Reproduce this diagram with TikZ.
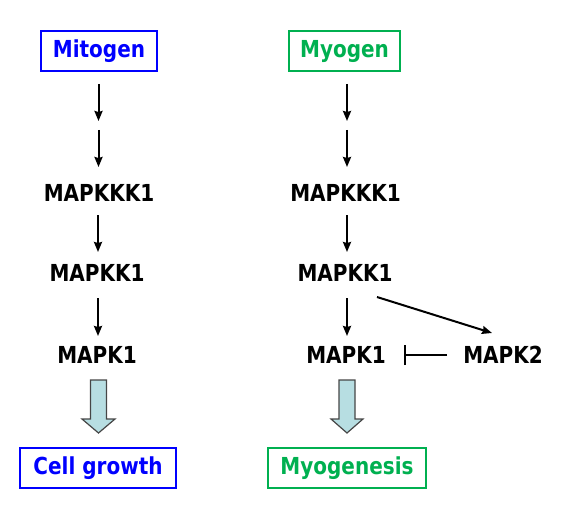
\documentclass[tikz,border=0pt]{standalone}
\usepackage{fontspec}
\usepackage{graphicx}
\setmainfont{DejaVu Sans}
\usetikzlibrary{arrows.meta,calc}
\definecolor{mblue}{RGB}{0,0,255}
\definecolor{mgreen}{RGB}{0,176,80}
\definecolor{bafill}{RGB}{183,222,226}
\definecolor{badraw}{RGB}{70,70,70}
\newcommand\talltxt[1]{\scalebox{1}[1.17]{#1}}
\begin{document}
\begin{tikzpicture}[x=1pt,y=-1pt,
  lbl/.style={font=\fontsize{20}{24}\selectfont\bfseries, inner sep=0pt},
  boxed/.style={draw=#1, text=#1, line width=2pt, font=\fontsize{20}{24}\selectfont\bfseries, minimum height=40pt, inner sep=0pt},
  arr/.style={line width=2pt, -{Stealth[length=10pt,width=8pt,inset=1pt]}},
  inhib/.style={line width=2pt, -{Bar[width=20pt,line width=2pt]}},
  blockarrow/.style={draw=badraw, fill=bafill, line width=1.2pt, line join=miter}
]
\useasboundingbox (0,0) rectangle (586,524);

% left column
\node[boxed=mblue, minimum width=116pt] (mitogen) at (99,51) {\talltxt{Mitogen}};
\coordinate (l1a) at (98.5,84);  \coordinate (l1b) at (98.5,121);
\coordinate (l2a) at (98.5,130); \coordinate (l2b) at (98.5,167);
\node[lbl] (kkk1L) at (99,193) {\talltxt{MAPKKK1}};
\node[lbl] (kk1L) at (97,273) {\talltxt{MAPKK1}};
\node[lbl] (k1L) at (97,355) {\talltxt{MAPK1}};
\node[boxed=mblue, minimum width=156pt] (growth) at (98,468) {\talltxt{Cell growth}};

\draw[arr] (l1a) -- (l1b);
\draw[arr] (l2a) -- (l2b);
\draw[arr] ($(kkk1L)+(-1,22)$) -- ($(kk1L)+(1,-21)$);
\draw[arr] ($(kk1L)+(1,25)$) -- ($(k1L)+(1,-19)$);
\draw[blockarrow] ($(k1L)+(-6.5,25)$) -- ($(k1L)+(9.5,25)$) -- ($(k1L)+(9.5,64)$) -- ($(k1L)+(18,64)$)
  -- ($(k1L)+(1.5,78)$) -- ($(k1L)+(-15,64)$) -- ($(k1L)+(-6.5,64)$) -- cycle;

% right column
\node[boxed=mgreen, minimum width=111pt] (myogen) at (344.5,51) {\talltxt{Myogen}};
\coordinate (r1a) at (347,84);  \coordinate (r1b) at (347,121);
\coordinate (r2a) at (347,130); \coordinate (r2b) at (347,167);
\node[lbl] (kkk1R) at (345.5,193) {\talltxt{MAPKKK1}};
\node[lbl] (kk1R) at (345,273) {\talltxt{MAPKK1}};
\node[lbl] (k1R) at (346,355) {\talltxt{MAPK1}};
\node[lbl] (k2R) at (503,355) {\talltxt{MAPK2}};
\node[boxed=mgreen, minimum width=158pt] (myogenesis) at (347,468) {\talltxt{Myogenesis}};

\draw[arr] (r1a) -- (r1b);
\draw[arr] (r2a) -- (r2b);
\draw[arr] ($(kkk1R)+(1.5,22)$) -- ($(kk1R)+(2,-21)$);
\draw[arr] ($(kk1R)+(2,25)$) -- ($(k1R)+(1,-19)$);
\draw[arr] ($(kk1R)+(32,24)$) -- ($(k2R)+(-11,-22)$);
\draw[inhib] ($(k2R)+(-56,0)$) -- ($(k1R)+(58,0)$);
\draw[blockarrow] ($(k1R)+(-7,25)$) -- ($(k1R)+(9,25)$) -- ($(k1R)+(9,64)$) -- ($(k1R)+(17,64)$)
  -- ($(k1R)+(1,78)$) -- ($(k1R)+(-15,64)$) -- ($(k1R)+(-7,64)$) -- cycle;
\end{tikzpicture}
\end{document}
